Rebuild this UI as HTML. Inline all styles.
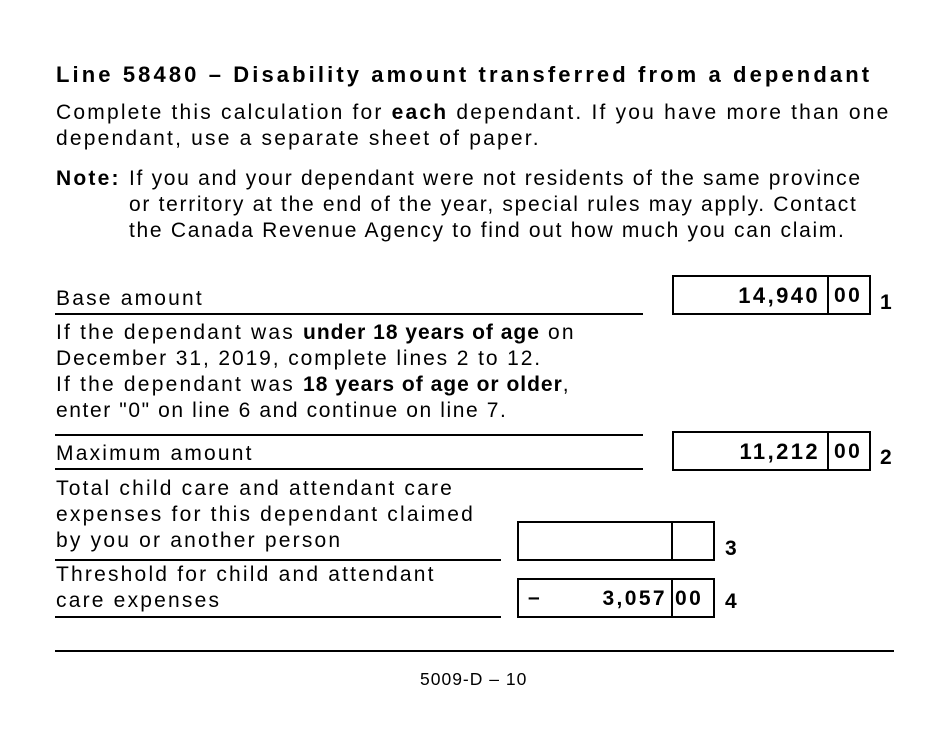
<!DOCTYPE html>
<html><head><style>
body{margin:0;width:950px;height:733px;background:#fff;position:relative;font-family:"Liberation Sans",Arial,sans-serif;color:#000;overflow:hidden}
.t{position:absolute;white-space:nowrap;font-size:21px;letter-spacing:2.2px;line-height:26px}
.h{position:absolute;height:2px;background:#000}
.box{position:absolute;border:2px solid #000;box-sizing:border-box}
.v{position:absolute;top:0;bottom:0;width:2px;background:#000}
.n{position:absolute;font-weight:bold;font-size:21px;letter-spacing:2.4px}
b{font-weight:bold}
.q b{letter-spacing:1px}
</style></head><body>
<div class="t" style="left:56px;top:62px;font-weight:bold;font-size:22px;letter-spacing:3.1px">Line 58480 – Disability amount transferred from a dependant</div>
<div class="t" style="left:56px;top:100px">Complete this calculation for <b>each</b> dependant. If you have more than one</div>
<div class="t" style="left:56px;top:126px">dependant, use a separate sheet of paper.</div>
<div class="t" style="left:56px;top:166px"><b>Note:</b></div>
<div class="t" style="left:129px;top:166px;letter-spacing:1.7px">If you and your dependant were not residents of the same province</div>
<div class="t" style="left:129px;top:192px;letter-spacing:1.7px">or territory at the end of the year, special rules may apply. Contact</div>
<div class="t" style="left:129px;top:218px;letter-spacing:1.7px">the Canada Revenue Agency to find out how much you can claim.</div>

<div class="t" style="left:56px;top:286px">Base amount</div>
<div class="h" style="left:55px;top:313px;width:588px"></div>
<div class="t q" style="left:56px;top:320px">If the dependant was <b>under 18 years of age</b> on</div>
<div class="t" style="left:56px;top:346px;letter-spacing:1.9px">December 31, 2019, complete lines 2 to 12.</div>
<div class="t q" style="left:56px;top:372px">If the dependant was <b>18 years of age or older</b>,</div>
<div class="t" style="left:56px;top:398px;letter-spacing:1.6px">enter "0" on line 6 and continue on line 7.</div>
<div class="h" style="left:55px;top:434px;width:588px"></div>
<div class="t" style="left:56px;top:441px">Maximum amount</div>
<div class="h" style="left:55px;top:468px;width:588px"></div>
<div class="t" style="left:56px;top:476px">Total child care and attendant care</div>
<div class="t" style="left:56px;top:502px">expenses for this dependant claimed</div>
<div class="t" style="left:56px;top:528px">by you or another person</div>
<div class="h" style="left:55px;top:559px;width:446px"></div>
<div class="t" style="left:56px;top:562px">Threshold for child and attendant</div>
<div class="t" style="left:56px;top:588px">care expenses</div>
<div class="h" style="left:55px;top:616px;width:446px"></div>
<div class="h" style="left:55px;top:650px;width:839px"></div>
<div class="t" style="left:420px;top:666px;font-size:17.5px;letter-spacing:1px">5009-D – 10</div>

<div class="box" style="left:672px;top:275px;width:199px;height:40px"><div class="v" style="left:153px"></div>
<span class="n" style="right:49px;top:6px;font-size:22px">14,940</span><span class="n" style="left:160px;top:7px">00</span></div>
<span class="n" style="left:880px;top:291px">1</span>
<div class="box" style="left:672px;top:431px;width:199px;height:40px"><div class="v" style="left:153px"></div>
<span class="n" style="right:49px;top:6px;font-size:22px">11,212</span><span class="n" style="left:160px;top:7px">00</span></div>
<span class="n" style="left:880px;top:446px">2</span>
<div class="box" style="left:517px;top:521px;width:198px;height:40px"><div class="v" style="left:152px"></div></div>
<span class="n" style="left:725px;top:537px">3</span>
<div class="box" style="left:517px;top:578px;width:198px;height:40px"><div class="v" style="left:152px"></div>
<span class="n" style="left:9px;top:6px">–</span>
<span class="n" style="right:46px;top:7px">3,057</span><span class="n" style="left:156px;top:7px">00</span></div>
<span class="n" style="left:725px;top:590px">4</span>
</body></html>
